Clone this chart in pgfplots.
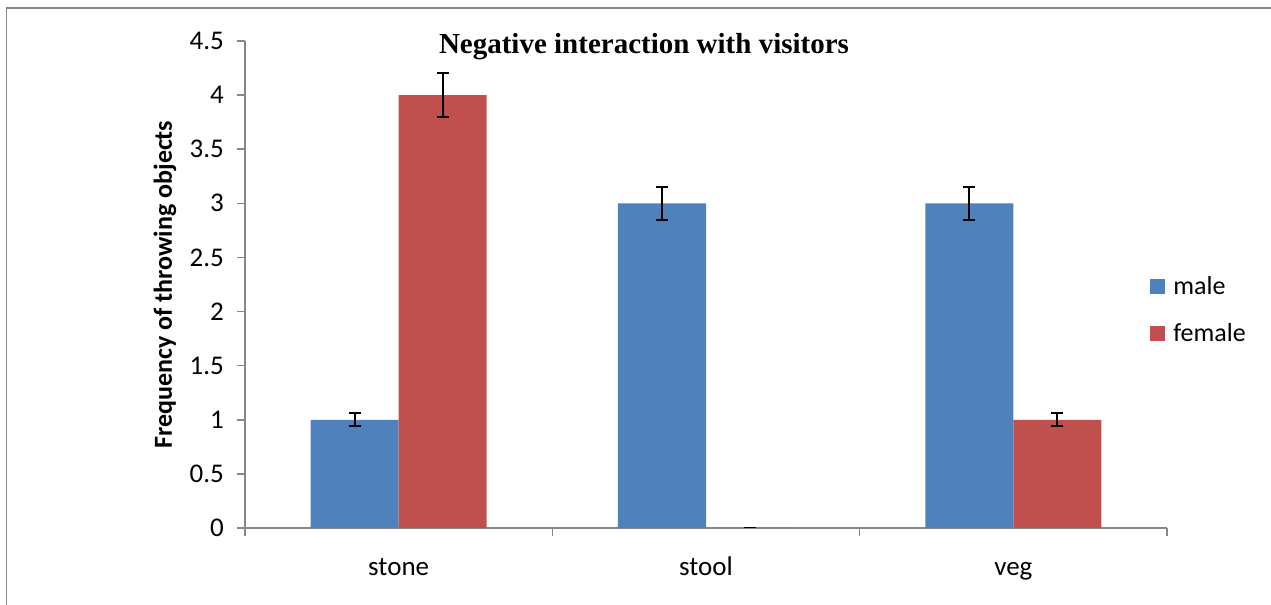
\documentclass[border=0pt]{standalone}
\usepackage{pgfplots}
\pgfplotsset{compat=1.18}
\usepackage{fontspec}
\setmainfont{Carlito}
\newfontfamily\titlefont{Liberation Serif}
\definecolor{axisgray}{HTML}{868686}
\definecolor{mblue}{HTML}{4F81BD}
\definecolor{fred}{HTML}{C0504D}
\pgfplotstableread{
x y e
0 1 0.06
1 3 0.15
2 3 0.15
}\male
\pgfplotstableread{
x y e
0 4 0.2
1 0 0
2 1 0.06
}\female
\begin{document}
\begin{tikzpicture}
\begin{axis}[
  at={(122.5pt,38.5pt)}, anchor=south west,
  scale only axis, width=461pt, height=243.5pt,
  ybar=0pt, bar width=0.2864,
  xmin=-0.5, xmax=2.5, ymin=0, ymax=4.5,
  ytick={0,0.5,...,4.5},
  xtick={-0.5,0.5,1.5,2.5}, xticklabels={stone,stool,veg,},
  tick style={draw=axisgray, line width=0.75pt},
  major tick length=4pt,
  tick align=outside,
  axis lines*=left,
  axis line style={-, draw=axisgray, line width=0.75pt},
  /pgf/number format/assume math mode=true,
  /pgf/number format/fixed,
  ticklabel style={font=\fontsize{13.5}{16}\selectfont},
  yticklabel style={xshift=-3pt},
  xticklabel style={anchor=base, xshift=76.83pt, yshift=-20pt},
  every axis y label/.style={at={(axis description cs:-0.0868,0.5)}, rotate=90, anchor=center},
  ylabel={\fontsize{13}{15}\selectfont\bfseries Frequency of throwing objects},
  legend style={draw=none, fill=none, at={(0.975,0.534)}, anchor=north west,
    font=\fontsize{13}{15}\selectfont, row sep=9pt,
    cells={anchor=west}, nodes={inner xsep=4pt}},
  legend image code/.code={\fill[#1] (0pt,-3.75pt) rectangle (7.5pt,3.75pt);},
  error bars/y dir=both, error bars/y explicit,
  error bars/error bar style={black, line width=1pt},
  error bars/error mark options={black, line width=1pt, mark size=3pt, rotate=90},
]
\addplot[fill=mblue, draw=none] table[x=x, y=y, y error=e] {\male};
\addlegendentry{male}
\addplot[fill=fred, draw=none] table[x=x, y=y, y error=e] {\female};
\addlegendentry{female}
\end{axis}
\node[font=\titlefont\fontsize{14.5}{17}\selectfont\bfseries] at (322pt,279pt) {Negative interaction with visitors};
\draw[axisgray, line width=0.75pt] (3.3pt,0pt) -- (3.3pt,298.4pt) -- (640pt,298.4pt);
\pgfresetboundingbox
\useasboundingbox (0pt,0pt) rectangle (635.5pt,302.5pt);
\end{tikzpicture}
\end{document}
